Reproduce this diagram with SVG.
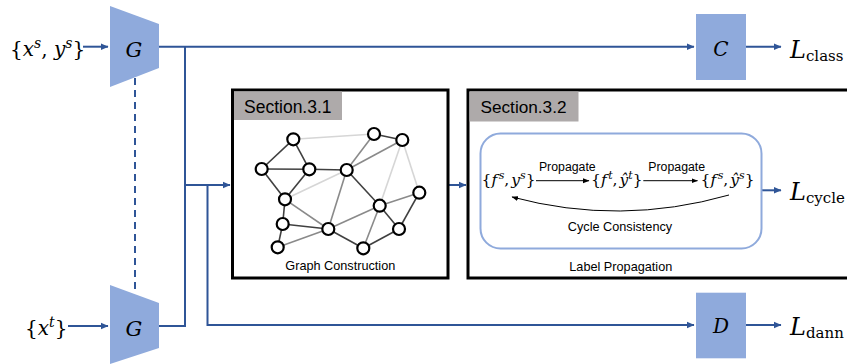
<svg xmlns="http://www.w3.org/2000/svg" width="847" height="364" viewBox="0 0 847 364">
<style>
.blk{fill:#8faadc;stroke:none}
.ln{fill:none;stroke:#2f5597;stroke-width:2}
.m{font-family:"DejaVu Serif","Liberation Serif",serif;fill:#000}
.it{font-style:italic}
.sans{font-family:"Liberation Sans",Arial,sans-serif;fill:#000}
.sec{fill:none;stroke:#000;stroke-width:3}
.lab{fill:#aeaaaa}
.nd{fill:#fff;stroke:#000;stroke-width:2.2}
.e1{stroke:#404040;stroke-width:1.6}
.e2{stroke:#8a8a8a;stroke-width:1.6}
.e3{stroke:#d6d6d6;stroke-width:1.6}
.thin{fill:none;stroke:#000;stroke-width:1}
</style>
<defs>
<marker id="ab" markerWidth="8" markerHeight="8" refX="7" refY="4" orient="auto" markerUnits="userSpaceOnUse">
<path d="M0,0.8 L7.5,4 L0,7.2 Z" fill="#2f5597"/>
</marker>
<marker id="ak" markerWidth="7" markerHeight="6" refX="6" refY="3" orient="auto" markerUnits="userSpaceOnUse">
<path d="M0,0.5 L6.5,3 L0,5.5 Z" fill="#000"/>
</marker>
</defs>

<g id="connectors">
<path class="ln" d="M159,46.7 H694" marker-end="url(#ab)"/>
<path class="ln" d="M159,326 H185 V46.7"/>
<path class="ln" d="M185,185 H230" marker-end="url(#ab)"/>
<path class="ln" d="M207.5,185 V325 H694" marker-end="url(#ab)"/>
<path class="ln" d="M83,46.7 H108" marker-end="url(#ab)"/>
<path class="ln" d="M68,326 H108" marker-end="url(#ab)"/>
<path class="ln" d="M449,185 H466" marker-end="url(#ab)"/>
<path class="ln" d="M746,46.7 H781" marker-end="url(#ab)"/>
<path class="ln" d="M746,325 H781" marker-end="url(#ab)"/>
<path class="ln" d="M762,190.3 H781" marker-end="url(#ab)"/>
<path class="ln" d="M135,78 V290" stroke-dasharray="7,5"/>
</g>

<g id="G-source">
<polygon class="blk" points="110,6 159,24 159,68 110,87"/>
<text class="m it" x="134" y="57" font-size="21" text-anchor="middle">G</text>
</g>
<g id="G-target">
<polygon class="blk" points="110,285 159,303 159,348 110,364"/>
<text class="m it" x="134" y="335.5" font-size="21" text-anchor="middle">G</text>
</g>
<g id="input-source">
<text class="m" x="10" y="56" font-size="20">{<tspan class="it">x</tspan><tspan class="it" font-size="14" dy="-8">s</tspan><tspan dy="8">, </tspan><tspan class="it">y</tspan><tspan class="it" font-size="14" dy="-8">s</tspan><tspan dy="8">}</tspan></text>
</g>
<g id="input-target">
<text class="m" x="25" y="335" font-size="20">{<tspan class="it">x</tspan><tspan class="it" font-size="14" dy="-8">t</tspan><tspan dy="8">}</tspan></text>
</g>

<g id="C">
<rect class="blk" x="696" y="14" width="50" height="66"/>
<text class="m it" x="721" y="55.5" font-size="20" text-anchor="middle">C</text>
</g>
<g id="D">
<rect class="blk" x="696" y="292.7" width="50" height="65.6"/>
<text class="m it" x="721" y="333" font-size="20" text-anchor="middle">D</text>
</g>
<g id="L-class">
<text class="m" x="790" y="58" font-size="24"><tspan class="it">L</tspan><tspan font-size="15" dy="3">class</tspan></text>
</g>
<g id="L-cycle">
<text class="m" x="790" y="199.5" font-size="24"><tspan class="it">L</tspan><tspan font-size="15" dy="3">cycle</tspan></text>
</g>
<g id="L-dann">
<text class="m" x="790" y="335" font-size="24"><tspan class="it">L</tspan><tspan font-size="15" dy="3">dann</tspan></text>
</g>

<g id="section-3-1">
<rect class="sec" x="232.5" y="90" width="215.5" height="188"/>
<rect class="lab" x="234" y="91.5" width="108" height="28.5"/>
<text class="sans" x="244" y="113" font-size="17.5">Section.3.1</text>
<g id="graph-edges">
<line class="e3" x1="293.3" y1="139.3" x2="374" y2="134"/>
<line class="e1" x1="293.3" y1="139.3" x2="261.7" y2="169"/>
<line class="e1" x1="293.3" y1="139.3" x2="309.3" y2="169.3"/>
<line class="e1" x1="261.7" y1="169" x2="309.3" y2="169.3"/>
<line class="e1" x1="261.7" y1="169" x2="285" y2="199.3"/>
<line class="e1" x1="309.3" y1="169.3" x2="285" y2="199.3"/>
<line class="e1" x1="309.3" y1="169.3" x2="346.7" y2="170"/>
<line class="e2" x1="346.7" y1="170" x2="374" y2="134"/>
<line class="e2" x1="346.7" y1="170" x2="402.3" y2="140"/>
<line class="e1" x1="374" y1="134" x2="402.3" y2="140"/>
<line class="e3" x1="285" y1="199.3" x2="346.7" y2="170"/>
<line class="e1" x1="285" y1="199.3" x2="282.7" y2="224"/>
<line class="e2" x1="285" y1="199.3" x2="328.3" y2="229"/>
<line class="e1" x1="282.7" y1="224" x2="328.3" y2="229"/>
<line class="e1" x1="282.7" y1="224" x2="277.7" y2="247.3"/>
<line class="e2" x1="277.7" y1="247.3" x2="328.3" y2="229"/>
<line class="e2" x1="328.3" y1="229" x2="346.7" y2="170"/>
<line class="e1" x1="328.3" y1="229" x2="363.3" y2="248.3"/>
<line class="e2" x1="328.3" y1="229" x2="379.7" y2="205.7"/>
<line class="e1" x1="346.7" y1="170" x2="379.7" y2="205.7"/>
<line class="e3" x1="402.3" y1="140" x2="379.7" y2="205.7"/>
<line class="e3" x1="402.3" y1="140" x2="419.3" y2="192.7"/>
<line class="e2" x1="379.7" y1="205.7" x2="419.3" y2="192.7"/>
<line class="e1" x1="379.7" y1="205.7" x2="399" y2="229"/>
<line class="e1" x1="419.3" y1="192.7" x2="399" y2="229"/>
<line class="e2" x1="363.3" y1="248.3" x2="379.7" y2="205.7"/>
<line class="e1" x1="363.3" y1="248.3" x2="399" y2="229"/>
</g>
<g id="graph-nodes">
<circle class="nd" cx="293.3" cy="139.3" r="6"/>
<circle class="nd" cx="374" cy="134" r="6"/>
<circle class="nd" cx="402.3" cy="140" r="6"/>
<circle class="nd" cx="261.7" cy="169" r="6"/>
<circle class="nd" cx="309.3" cy="169.3" r="6"/>
<circle class="nd" cx="346.7" cy="170" r="6"/>
<circle class="nd" cx="285" cy="199.3" r="6"/>
<circle class="nd" cx="419.3" cy="192.7" r="6"/>
<circle class="nd" cx="379.7" cy="205.7" r="6"/>
<circle class="nd" cx="282.7" cy="224" r="6"/>
<circle class="nd" cx="328.3" cy="229" r="6"/>
<circle class="nd" cx="399" cy="229" r="6"/>
<circle class="nd" cx="277.7" cy="247.3" r="6"/>
<circle class="nd" cx="363.3" cy="248.3" r="6"/>
</g>
<text class="sans" x="340.3" y="270" font-size="12.7" text-anchor="middle">Graph Construction</text>
</g>

<g id="section-3-2">
<rect class="sec" x="468" y="90" width="400" height="188"/>
<rect class="lab" x="469.5" y="91.5" width="109" height="30"/>
<text class="sans" x="480.5" y="113.3" font-size="17.2">Section.3.2</text>
<rect x="480.5" y="133.5" width="281" height="115" rx="20" fill="none" stroke="#8faadc" stroke-width="2"/>
<text class="m" x="481.5" y="185" font-size="15.5">{<tspan class="it">f</tspan><tspan class="it" font-size="11" dx="1.5" dy="-6">s</tspan><tspan dy="6">,</tspan><tspan class="it" dx="2">y</tspan><tspan class="it" font-size="11" dy="-6">s</tspan><tspan dy="6">}</tspan></text>
<text class="m" x="591" y="185" font-size="15.5">{<tspan class="it">f</tspan><tspan class="it" font-size="11" dx="1.5" dy="-6">t</tspan><tspan dy="6">,</tspan><tspan class="it" dx="2">ŷ</tspan><tspan class="it" font-size="11" dy="-6">t</tspan><tspan dy="6">}</tspan></text>
<text class="m" x="700.5" y="185" font-size="15.5">{<tspan class="it">f</tspan><tspan class="it" font-size="11" dx="1.5" dy="-6">s</tspan><tspan dy="6">,</tspan><tspan class="it" dx="2">ŷ</tspan><tspan class="it" font-size="11" dy="-6">s</tspan><tspan dy="6">}</tspan></text>
<path class="thin" d="M536,180.7 H589" marker-end="url(#ak)"/>
<path class="thin" d="M643.3,180.7 H697.5" marker-end="url(#ak)"/>
<text class="sans" x="567.3" y="170.5" font-size="12.3" text-anchor="middle">Propagate</text>
<text class="sans" x="676.7" y="170.5" font-size="12.3" text-anchor="middle">Propagate</text>
<path class="thin" d="M729,195 Q620,226 512,197" marker-end="url(#ak)"/>
<text class="sans" x="620" y="230.5" font-size="12.7" text-anchor="middle">Cycle Consistency</text>
<text class="sans" x="620.8" y="270.5" font-size="12.7" text-anchor="middle">Label Propagation</text>
</g>
</svg>
